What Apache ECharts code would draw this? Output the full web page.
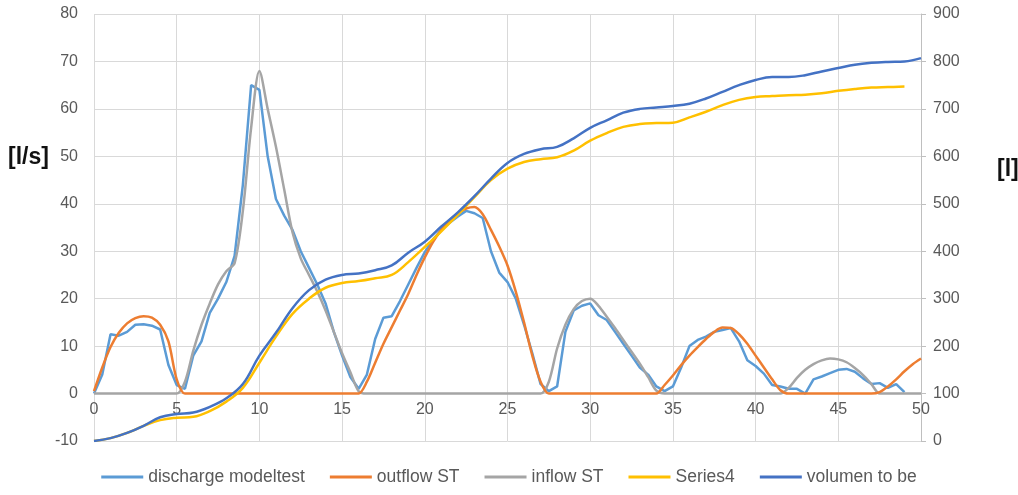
<!DOCTYPE html>
<html>
<head>
<meta charset="utf-8">
<script src="https://cdn.jsdelivr.net/npm/echarts@6/dist/echarts.min.js"></script>
<style>
html, body { margin: 0; padding: 0; background: #fff; }
#chart { width: 1018px; height: 495px; }
</style>
</head>
<body>
<div id="chart"></div>
<script>
// time in s, 0.5 s steps for the flows
var tFlow = [0,0.5,1,1.5,2,2.5,3,3.5,4,4.5,5,5.5,6,6.5,7,7.5,8,8.5,9,9.5,
	10,10.5,11,11.5,12,12.5,13,13.5,14,14.5,15,15.5,16,16.5,17,17.5,18,18.5,19,19.5,
	20,20.5,21,21.5,22,22.5,23,23.5,24,24.5,25,25.5,26,26.5,27,27.5,28,28.5,29,29.5,
	30,30.5,31,31.5,32,32.5,33,33.5,34,34.5,35,35.5,36,36.5,37,37.5,38,38.5,39,39.5,
	40,40.5,41,41.5,42,42.5,43,43.5,44,44.5,45,45.5,46,46.5,47,47.5,48,48.5,49,49.5,50];

// [l/s]
var discharge = [0,4,12.5,12.2,13,14.5,14.6,14.3,13.5,6,1.8,1,8,11,17,20,23.5,29,44,65,
	64,50,41,37.5,34.5,30,26.5,23,19,13,8,3.5,1,4,11.5,16,16.3,19.5,23,26.5,
	29.8,32.5,34.5,36,37.3,38.5,38,37,30,25.5,23.5,20,14.5,8.5,2,0.5,1.5,13,17.5,18.5,
	19,16.5,15.5,13,10.5,8,5.5,4,1.5,0.5,1.5,5.5,10,11.3,12,13,13.4,13.8,11,7,
	5.8,4.2,1.8,1.5,1,1,0,3,3.6,4.3,5,5.2,4.6,3.2,2,2.2,1.2,2,0.3,null,null];

var outflow = [0.5,5.5,9.8,12.8,14.8,15.9,16.3,16,14.5,11,3,0,0,0,0,0,0,0,0,0,
	0,0,0,0,0,0,0,0,0,0,0,0,0,2.5,6.5,10.5,14,17.5,21,25,
	28.7,32,34.5,36.5,38,39,39.3,37.8,34.5,31,27,21.5,15,8,2.5,0,0,0,0,0,
	0,0,0,0,0,0,0,0,0,1.8,3.8,6,8,9.8,11.5,13,13.9,13.8,12.5,10.5,
	8,5.5,3,0.7,0,0,0,0,0,0,0,0,0,0,0,0.3,1.5,3,4.7,6.2,7.4];

var inflow = [0,0,0,0,0,0,0,0,0,0,0,2.5,9,14.5,19,23,25.8,27.5,38.5,56,
	68,60,52,43,34,28.5,25,21.5,17.5,13,8.5,4.5,0.5,0,0,0,0,0,0,0,
	0,0,0,0,0,0,0,0,0,0,0,0,0,0,0,2.5,9.5,14.5,17.8,19.5,
	20,18.5,16.2,13.8,11.3,8.8,6.3,3.5,0.6,0,0,0,0,0,0,0,0,0,0,0,
	0,0,0,0,1.2,3.3,5,6.2,7,7.4,7.2,6.6,5.4,3.9,2,0,0,0,0,0,0];

// volumes [l], 1 s steps
var tVol = [0,1,2,3,4,5,6,7,8,9,10,11,12,13,14,15,16,17,18,19,20,21,22,23,24,25,
	26,27,28,29,30,31,32,33,34,35,36,37,38,39,40,41,42,43,44,45,46,47,48,49,50];
var series4 = [0,6,17,32,44,49,51,63,83,112,165,220,268,300,323,333,337,343,350,377,409,442,477,514,550,574,
	588,594,598,612,633,649,662,668,670,671,682,694,708,719,725,727,729,730,733,738,742,745,746,747,null];
var volumen = [0,6,17,32,50,57,60,72,90,120,180,228,280,318,340,350,353,360,370,397,420,452,482,516,553,586,
	605,615,620,638,660,676,692,700,703,706,711,722,736,750,761,767,767,771,779,786,793,797,799,800,807];

function pairs(xs, ys) {
	var out = [];
	for (var i = 0; i < xs.length; i++) out.push([xs[i], ys[i]]);
	return out;
}

var myChart = echarts.init(document.getElementById('chart'));
var txt = '#595959';
var font = 'Liberation Sans';

var option = {
	animation: false,
	color: ['#5B9BD5', '#ED7D31', '#A5A5A5', '#FFC000', '#4472C4'],
	grid: { left: 94, right: 97, top: 14, bottom: 54 },
	legend: {
		bottom: 4,
		left: 'center',
		icon: 'rect',
		itemWidth: 42,
		itemHeight: 3,
		itemGap: 25,
		textStyle: { color: txt, fontSize: 17.5, fontFamily: font },
		data: ['discharge modeltest', 'outflow ST', 'inflow ST', 'Series4', 'volumen to be']
	},
	graphic: [
		{ type: 'text', left: 8, top: 146, style: { text: '[l/s]', font: 'bold 23px "Liberation Sans"', fill: '#111' } },
		{ type: 'text', left: 997, top: 158, style: { text: '[l]', font: 'bold 23px "Liberation Sans"', fill: '#111' } }
	],
	xAxis: {
		type: 'value',
		min: 0, max: 50, interval: 5,
		axisLine: { show: false },
		axisTick: { show: false },
		// labels sit just under the zero line, as in the sheet
		axisLabel: { color: txt, fontSize: 16, fontFamily: font, margin: -39 },
		splitLine: { show: true, lineStyle: { color: '#D9D9D9', width: 1 } }
	},
	yAxis: [{
		type: 'value',
		min: -10, max: 80, interval: 10,
		axisLine: { show: false },
		axisTick: { show: false },
		axisLabel: { color: txt, fontSize: 16, fontFamily: font, margin: 16 },
		splitLine: { lineStyle: { color: '#D9D9D9', width: 1 } }
	}, {
		type: 'value',
		min: 0, max: 900, interval: 100,
		position: 'right',
		axisLine: { show: true, lineStyle: { color: '#BFBFBF', width: 1 } },
		axisTick: { show: true, length: 5, lineStyle: { color: '#BFBFBF' } },
		axisLabel: { color: txt, fontSize: 16, fontFamily: font, margin: 12 },
		splitLine: { show: false }
	}],
	series: [{
		name: 'discharge modeltest',
		type: 'line',
		showSymbol: false,
		lineStyle: { width: 2.5 },
		z: 2,
		data: pairs(tFlow, discharge)
	}, {
		name: 'outflow ST',
		type: 'line',
		showSymbol: false,
		smooth: 0.3,
		lineStyle: { width: 2.5 },
		z: 4,
		data: pairs(tFlow, outflow)
	}, {
		name: 'inflow ST',
		type: 'line',
		showSymbol: false,
		smooth: 0.3,
		lineStyle: { width: 2.5 },
		z: 3,
		data: pairs(tFlow, inflow)
	}, {
		name: 'Series4',
		type: 'line',
		yAxisIndex: 1,
		showSymbol: false,
		smooth: 0.4,
		lineStyle: { width: 2.5 },
		z: 5,
		data: pairs(tVol, series4)
	}, {
		name: 'volumen to be',
		type: 'line',
		yAxisIndex: 1,
		showSymbol: false,
		smooth: 0.4,
		lineStyle: { width: 2.5 },
		z: 6,
		data: pairs(tVol, volumen)
	}]
};

myChart.setOption(option);
</script>
</body>
</html>
